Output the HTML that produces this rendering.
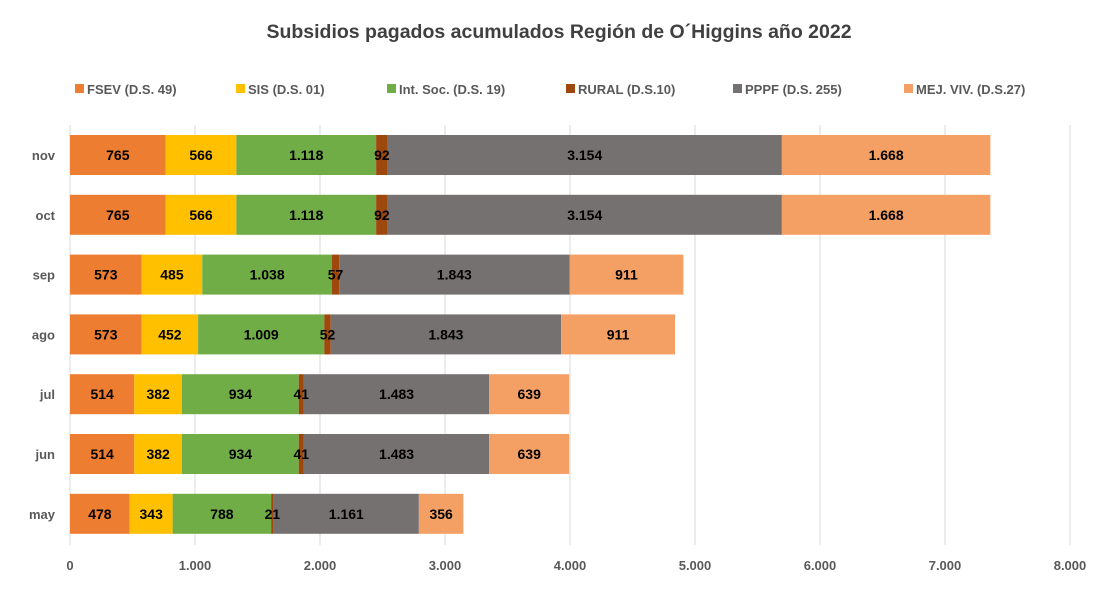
<!DOCTYPE html>
<html><head><meta charset="utf-8"><style>
body{margin:0;background:#fff;}
svg text{font-family:"Liberation Sans",Arial,sans-serif;}
</style></head><body>
<svg id="chart" width="1118" height="596" xmlns="http://www.w3.org/2000/svg">
<rect width="1118" height="596" fill="#fff"/>
<text x="559" y="38" text-anchor="middle" font-size="19.5" font-weight="bold" fill="#404040">Subsidios pagados acumulados Región de O´Higgins año 2022</text>
<g id="legend"></g>
<g id="grid"></g>
<g id="bars"></g>
<g id="labels"></g>
<g id="axes"></g>
</svg>
<script>
const categories=["nov","oct","sep","ago","jul","jun","may"];
const seriesNames=["FSEV (D.S. 49)","SIS (D.S. 01)","Int. Soc. (D.S. 19)","RURAL (D.S.10)","PPPF (D.S. 255)","MEJ. VIV. (D.S.27)"];
const fsev=[765,765,573,573,514,514,478];
const sis=[566,566,485,452,382,382,343];
const intsoc=[1118,1118,1038,1009,934,934,788];
const rural=[92,92,57,52,41,41,21];
const pppf=[3154,3154,1843,1843,1483,1483,1161];
const mej=[1668,1668,911,911,639,639,356];
const ticks=[0,1000,2000,3000,4000,5000,6000,7000,8000];
const colors=["#ED7D31","#FFC000","#70AD47","#9E480E","#767171","#F4A064"];
const series=[fsev,sis,intsoc,rural,pppf,mej];
const NS="http://www.w3.org/2000/svg";
const x0=70,x1=1070,xmax=8000,plotTop=125,step=59.8,bh=40;
const xs=v=>x0+(v/xmax)*(x1-x0);
const yc=i=>plotTop+30+i*step;
const fmt=v=>String(Math.round(v)).replace(/\B(?=(\d{3})+(?!\d))/g,'.');
function mk(t,a,p){const e=document.createElementNS(NS,t);for(const k in a)e.setAttribute(k,a[k]);p.appendChild(e);return e;}
const grid=document.getElementById('grid'),bars=document.getElementById('bars'),labels=document.getElementById('labels'),axes=document.getElementById('axes'),legend=document.getElementById('legend');
ticks.forEach(t=>{
 const l=mk('line',{x1:xs(t),x2:xs(t),y1:plotTop,y2:545,stroke:'#d9d9d9','stroke-width':1},grid);
 
 
 const tx=mk('text',{x:xs(t),y:570,'text-anchor':'middle','font-size':13,'font-weight':'bold',fill:'#595959'},axes);
 tx.textContent=fmt(t);
 
 
});
categories.forEach((c,i)=>{
 const tx=mk('text',{x:55,y:yc(i)+5,'text-anchor':'end','font-size':13,'font-weight':'bold',fill:'#595959'},axes);
 tx.textContent=c;
 
 
 let cum=0;
 series.forEach((s,j)=>{
  const v=s[i];
  const r=mk('rect',{x:xs(cum),y:yc(i)-bh/2,width:xs(cum+v)-xs(cum),height:bh,fill:colors[j]},bars);
  
  
  const lt=mk('text',{x:(xs(cum)+xs(cum+v))/2,y:yc(i)+5,'text-anchor':'middle','font-size':14,'font-weight':'bold',fill:'#000'},labels);
  lt.textContent=fmt(v);
  
  
  cum+=v;
 });
});
const lx=[75,236,387,566,733,904];
seriesNames.forEach((n,j)=>{
 const r=mk('rect',{x:lx[j],y:84,width:9,height:9,fill:colors[j]},legend);
 
 
 const t=mk('text',{x:lx[j]+12,y:94,'font-size':13,'font-weight':'bold',fill:'#595959'},legend);
 t.textContent=n;
 
 
});
</script>
</body></html>
